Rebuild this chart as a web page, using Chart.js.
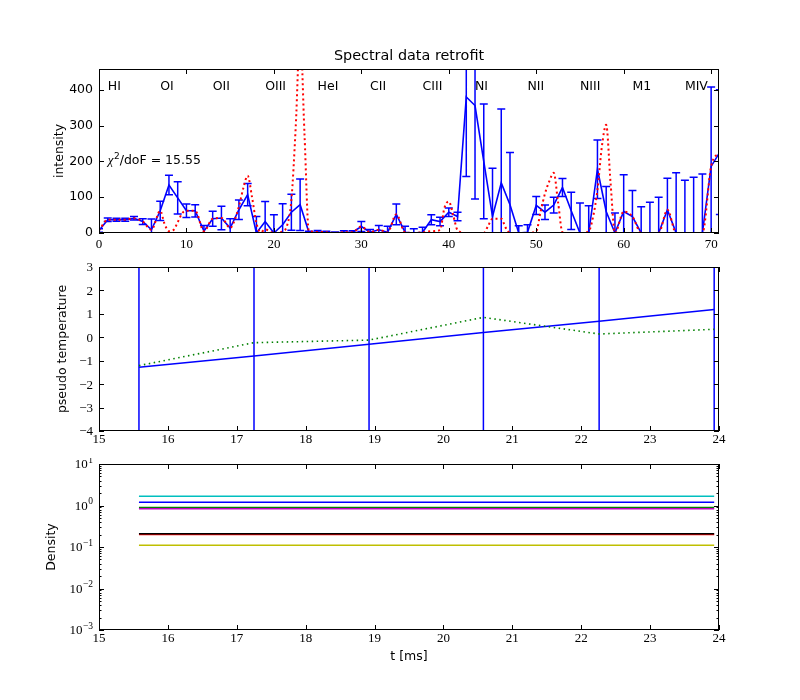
<!DOCTYPE html>
<html>
<head>
<meta charset="utf-8">
<script src="https://cdn.jsdelivr.net/npm/chart.js@4.4.0/dist/chart.umd.min.js"></script>
<style>
  body { margin: 0; background: #fff; }
  #wrap { position: relative; width: 800px; height: 700px; }
  .box { position: absolute; left: 0; width: 800px; }
</style>
</head>
<body>
<div id="wrap">
  <div class="box" style="top:0;height:258px"><canvas id="specChart"></canvas></div>
  <div class="box" style="top:258px;height:200px"><canvas id="tempChart"></canvas></div>
  <div class="box" style="top:458px;height:242px"><canvas id="densChart"></canvas></div>
</div>
<script>
// spectrum: measured intensity per channel, with error bars
const channels = [0,1,2,3,4,5,6,7,8,9,10,11,12,13,14,15,16,17,18,19,20,21,22,23,24,25,26,27,28,29,30,31,32,33,34,35,
  36,37,38,39,40,41,42,43,44,45,46,47,48,49,50,51,52,53,54,55,56,57,58,59,60,61,62,63,64,65,66,67,68,69,70,71];
const intensity = [7,37,37,37,41,32,9,62,134,98,62,62,5,40,42,14,65,107,0,32,0,23,58,79,2,3,2,0,2,2,18,2,9,2,52,2,
  0,2,37,32,58,46,380,356,200,46,140,79,0,2,77,58,78,127,62,0,0,178,60,0,60,46,0,0,0,65,0,0,0,0,186,226];
const intensityErr = [5,5,4,4,5,8,30,27,27,45,19,17,16,21,33,26,27,31,46,56,51,59,50,72,3,4,3,3,4,4,14,8,12,17,29,17,
  12,14,14,12,12,12,222,261,160,135,206,146,20,21,25,20,22,25,52,84,76,82,70,56,103,73,73,86,100,88,168,147,156,165,222,174];

// fitted model (red dotted), read at finer positions
const modelX = [0,1,2,3,4,5,6,7,7.5,8,8.5,9,9.5,10,11,12,13,14,15,15.5,16,16.5,17,17.5,18,18.5,19,20,21,21.5,22,22.5,23,23.5,24,
  25,26,27,28,29,30,31,32,33,34,35,36,37,38,39,39.5,40,40.5,41,42,43,44,44.5,45,46,46.5,47,48,49,50,50.5,51,51.5,52,52.5,53,
  54,55,56,56.5,57,57.5,58,58.5,59,60,61,62,63,64,65,66,67,68,69,70,71];
const modelY = [7,37,37,37,41,32,9,62,25,5,8,30,55,62,62,5,40,42,14,35,74,125,160,100,28,2,10,0,5,20,92,298,560,275,5,
  3,2,0,2,2,18,2,9,2,52,2,0,2,5,8,70,88,50,8,0,0,0,20,40,40,15,0,0,0,5,60,110,145,168,85,2,
  0,0,5,45,120,240,302,140,0,60,46,0,0,0,65,0,0,0,0,186,226];

const lineNames = ['HI','OI','OII','OIII','HeI','CII','CIII','NI','NII','NIII','M1','MIV'];
const linePos = [1,7,13,19,25,31,37,43,49,55,61,67];
const specXTicks = [0,10,20,30,40,50,60,70];
const specYTicks = [0,100,200,300,400];

// time slices
const sliceTimes = [15.58,17.25,18.92,20.58,22.26,23.93];
const tempFit = [-1.28,-0.80,-0.30,0.20,0.68,1.19];
const tempModel = [-1.21,-0.23,-0.12,0.85,0.14,0.34];
const timeTicks = [15,16,17,18,19,20,21,22,23,24];
const tempTicks = [-4,-3,-2,-1,0,1,2,3];

// densities (constant over time)
const densityLevels = [1.20,0.90,0.20,1.67,0.83,0.11,0.21];
const densityColors = ['#0000ff','#008000','#ff0000','#00bfbf','#bf00bf','#bfbf00','#000000'];
const densityTicks = [0.001,0.01,0.1,1,10];
const densityExp = ['\u22123','\u22122','\u22121','0','1'];

const SANS = '"DejaVu Sans", sans-serif';
const SERIF = '"Liberation Serif", serif';

// box around the axes + inward ticks + free text
const axesFrame = {
  id: 'axesFrame',
  afterDraw(chart, args, opts) {
    const {ctx, chartArea: a, scales} = chart;
    ctx.save();
    ctx.strokeStyle = '#000';
    ctx.lineWidth = 1;
    ctx.strokeRect(Math.round(a.left) + 0.5, Math.round(a.top) + 0.5,
      Math.round(a.right - a.left) - 1, Math.round(a.bottom - a.top) - 1);
    ctx.beginPath();
    (opts.xTicks || []).forEach(v => {
      const x = Math.round(scales.x.getPixelForValue(v)) + 0.5;
      ctx.moveTo(x, a.bottom); ctx.lineTo(x, a.bottom - 5);
      ctx.moveTo(x, a.top); ctx.lineTo(x, a.top + 5);
    });
    (opts.yTicks || []).forEach(v => {
      const y = Math.round(scales.y.getPixelForValue(v)) + 0.5;
      ctx.moveTo(a.left, y); ctx.lineTo(a.left + 5, y);
      ctx.moveTo(a.right, y); ctx.lineTo(a.right - 5, y);
    });
    if (opts.logMinor) {
      densityTicks.slice(0, -1).forEach(d => {
        for (let k = 2; k < 10; k++) {
          const y = Math.round(scales.y.getPixelForValue(d * k)) + 0.5;
          ctx.moveTo(a.left, y); ctx.lineTo(a.left + 2.5, y);
          ctx.moveTo(a.right, y); ctx.lineTo(a.right - 2.5, y);
        }
      });
    }
    ctx.stroke();
    ctx.fillStyle = '#000';
    (opts.texts || []).forEach(t => {
      ctx.save();
      ctx.font = t.font;
      ctx.textAlign = t.align || 'center';
      ctx.textBaseline = t.baseline || 'middle';
      ctx.translate(t.x, t.y);
      if (t.rotate) ctx.rotate(-Math.PI / 2);
      ctx.fillText(t.text, 0, 0);
      ctx.restore();
    });
    if (opts.draw) opts.draw(chart);
    ctx.restore();
  }
};

const errorBars = {
  id: 'errorBars',
  beforeDatasetsDraw(chart) {
    const {ctx, chartArea: a, scales: {x, y}} = chart;
    ctx.save();
    ctx.beginPath();
    ctx.rect(a.left, a.top, a.right - a.left, a.bottom - a.top);
    ctx.clip();
    ctx.strokeStyle = '#0000ff';
    ctx.lineWidth = 1.5;
    ctx.beginPath();
    channels.forEach((c, i) => {
      const px = x.getPixelForValue(c);
      const top = y.getPixelForValue(intensity[i] + intensityErr[i]);
      const bot = y.getPixelForValue(intensity[i] - intensityErr[i]);
      ctx.moveTo(px, top); ctx.lineTo(px, bot);
      ctx.moveTo(px - 4, top); ctx.lineTo(px + 4, top);
      ctx.moveTo(px - 4, bot); ctx.lineTo(px + 4, bot);
    });
    ctx.stroke();
    ctx.restore();
  }
};

function fixWidth(w) { return s => { s.width = w; }; }
function fixHeight(h) { return s => { s.height = h; }; }

// ---- top: spectrum ----
new Chart(document.getElementById('specChart'), {
  type: 'line',
  data: {
    datasets: [
      {
        data: modelX.map((x, i) => ({x: x, y: modelY[i]})),
        borderColor: '#ff0000', borderWidth: 2, borderDash: [2, 3],
        pointRadius: 0, cubicInterpolationMode: 'monotone'
      },
      {
        data: channels.map((c, i) => ({x: c, y: intensity[i]})),
        borderColor: '#0000ff', borderWidth: 1.6, pointRadius: 0, tension: 0
      },
      {
        data: [{x: 0, y: 0}, {x: 71, y: 0}],
        borderColor: '#008000', borderWidth: 1.5, pointRadius: 0
      }
    ]
  },
  options: {
    responsive: true, maintainAspectRatio: false, animation: false,
    layout: {padding: {left: 0, right: 81, top: 69, bottom: 0}},
    plugins: {
      legend: {display: false}, tooltip: {enabled: false},
      axesFrame: {
        xTicks: specXTicks, yTicks: specYTicks,
        texts: [
          {text: 'Spectral data retrofit', x: 409, y: 60, font: '14.4px ' + SANS, baseline: 'alphabetic'},
          {text: 'intensity', x: 60, y: 151, font: '12.5px ' + SANS, rotate: true}
        ],
        draw(chart) {
          const {ctx, scales: {x, y}} = chart;
          ctx.font = '12.5px ' + SANS;
          ctx.textAlign = 'left';
          ctx.textBaseline = 'alphabetic';
          lineNames.forEach((n, i) => ctx.fillText(n, x.getPixelForValue(linePos[i]), 90));
          // chi^2 / doF annotation
          let px = x.getPixelForValue(1);
          const py = y.getPixelForValue(192);
          ctx.font = 'italic 13px ' + SERIF;
          ctx.fillText('\u03c7', px, py);
          px += ctx.measureText('\u03c7').width + 0.5;
          ctx.font = '9px ' + SANS;
          ctx.fillText('2', px, py - 5);
          px += ctx.measureText('2').width;
          ctx.font = '12.5px ' + SANS;
          ctx.fillText('/doF = 15.55', px, py);
        }
      }
    },
    scales: {
      x: {
        type: 'linear', min: 0, max: 70.9,
        afterFit: fixHeight(25),
        grid: {display: false, drawTicks: false}, border: {display: false},
        afterBuildTicks: s => { s.ticks = specXTicks.map(v => ({value: v})); },
        ticks: {padding: 3.5, color: '#000', font: {family: SERIF, size: 13}, maxRotation: 0}
      },
      y: {
        min: 0, max: 458,
        afterFit: fixWidth(99),
        grid: {display: false, drawTicks: false}, border: {display: false},
        afterBuildTicks: s => { s.ticks = specYTicks.map(v => ({value: v})); },
        ticks: {padding: 6, color: '#000', font: {family: SANS, size: 12.5}}
      }
    }
  },
  plugins: [errorBars, axesFrame]
});

// ---- middle: pseudo temperature ----
const minus = v => v < 0 ? '\u2212' + Math.abs(v) : String(v);
new Chart(document.getElementById('tempChart'), {
  type: 'line',
  data: {
    datasets: [
      {
        data: sliceTimes.map((t, i) => ({x: t, y: tempModel[i]})),
        borderColor: '#008000', borderWidth: 1.6, borderDash: [1.5, 3.5], pointRadius: 0
      },
      {
        data: sliceTimes.map((t, i) => ({x: t, y: tempFit[i]})),
        borderColor: '#0000ff', borderWidth: 1.5, pointRadius: 0
      }
    ].concat(sliceTimes.map(t => ({
      data: [{x: t, y: tempTicks[0]}, {x: t, y: tempTicks[tempTicks.length - 1]}],
      borderColor: '#0000ff', borderWidth: 1.5, pointRadius: 0
    })))
  },
  options: {
    responsive: true, maintainAspectRatio: false, animation: false,
    layout: {padding: {left: 0, right: 81, top: 9, bottom: 0}},
    plugins: {
      legend: {display: false}, tooltip: {enabled: false},
      axesFrame: {
        xTicks: timeTicks, yTicks: tempTicks,
        texts: [{text: 'pseudo temperature', x: 63, y: 91, font: '12.5px ' + SANS, rotate: true}],
        draw(chart) {
          const {ctx, scales: {y}} = chart;
          ctx.font = '13px ' + SERIF;
          ctx.textAlign = 'right';
          ctx.textBaseline = 'middle';
          tempTicks.forEach(v => ctx.fillText(minus(v), 93, y.getPixelForValue(v) + 1));
        }
      }
    },
    scales: {
      x: {
        type: 'linear', min: 15, max: 24,
        afterFit: fixHeight(27),
        grid: {display: false, drawTicks: false}, border: {display: false},
        afterBuildTicks: s => { s.ticks = timeTicks.map(v => ({value: v})); },
        ticks: {padding: 1, color: '#000', font: {family: SERIF, size: 13}, maxRotation: 0}
      },
      y: {
        min: -4, max: 3,
        afterFit: fixWidth(99),
        grid: {display: false, drawTicks: false}, border: {display: false},
        ticks: {display: false}
      }
    }
  },
  plugins: [axesFrame]
});

// ---- bottom: density ----
new Chart(document.getElementById('densChart'), {
  type: 'line',
  data: {
    datasets: densityLevels.map((d, i) => ({
      data: sliceTimes.map(t => ({x: t, y: d})),
      borderColor: densityColors[i], borderWidth: 1.5, pointRadius: 0,
      order: densityLevels.length - i
    }))
  },
  options: {
    responsive: true, maintainAspectRatio: false, animation: false,
    layout: {padding: {left: 0, right: 81, top: 6, bottom: 0}},
    plugins: {
      legend: {display: false}, tooltip: {enabled: false},
      axesFrame: {
        xTicks: timeTicks, yTicks: densityTicks, logMinor: true,
        texts: [
          {text: 'Density', x: 52, y: 89, font: '12.5px ' + SANS, rotate: true},
          {text: 't [ms]', x: 409, y: 199, font: '12.5px ' + SANS}
        ],
        draw(chart) {
          const {ctx, scales: {y}} = chart;
          ctx.textBaseline = 'middle';
          ctx.textAlign = 'left';
          densityTicks.forEach((d, i) => {
            const py = y.getPixelForValue(d);
            ctx.font = '9.5px ' + SERIF;
            const ew = ctx.measureText(densityExp[i]).width;
            ctx.font = '13px ' + SERIF;
            const bw = ctx.measureText('10').width;
            ctx.fillText('10', 93 - ew - bw - 0.5, py + 1);
            ctx.font = '9.5px ' + SERIF;
            ctx.fillText(densityExp[i], 93 - ew, py - 4);
          });
        }
      }
    },
    scales: {
      x: {
        type: 'linear', min: 15, max: 24,
        afterFit: fixHeight(70),
        grid: {display: false, drawTicks: false}, border: {display: false},
        afterBuildTicks: s => { s.ticks = timeTicks.map(v => ({value: v})); },
        ticks: {padding: 1, color: '#000', font: {family: SERIF, size: 13}, maxRotation: 0}
      },
      y: {
        type: 'logarithmic', min: 0.001, max: 10,
        afterFit: fixWidth(99),
        grid: {display: false, drawTicks: false}, border: {display: false},
        ticks: {display: false}
      }
    }
  },
  plugins: [axesFrame]
});
</script>
</body>
</html>
